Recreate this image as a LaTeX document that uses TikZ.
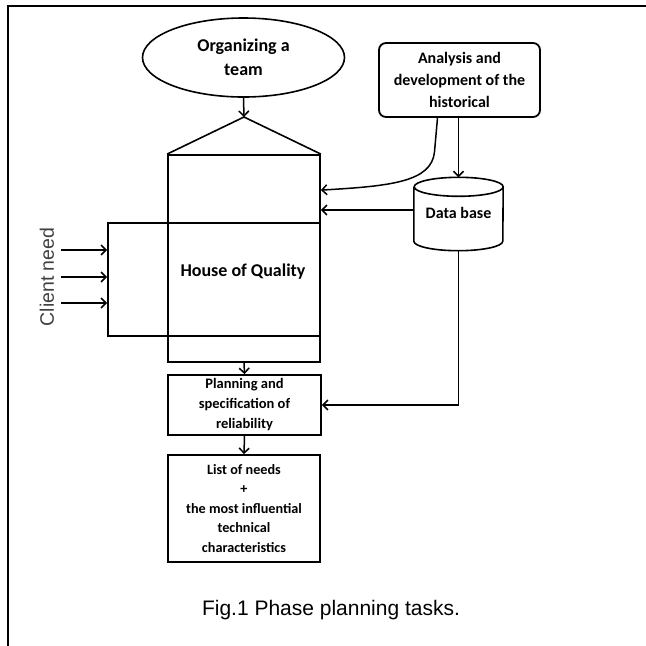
\documentclass[tikz,border=0pt]{standalone}
\usepackage{fontspec}
\setmainfont{Carlito}
\newfontfamily\arialfont{Liberation Sans}
\usetikzlibrary{arrows.meta,shapes.geometric,calc}

\begin{document}
\begin{tikzpicture}[x=1pt,y=-1pt,
  every node/.style={inner sep=0pt},
  box/.style={draw, rectangle, line width=1.8pt},
  arr/.style={line width=1.5pt, -{Straight Barb[length=5pt,width=10pt]}},
  wire/.style={line width=1.5pt}]
\useasboundingbox (0,0) rectangle (646,646);

% page frame (top and left rules)
\draw[line width=2pt] (8,648) -- (8,6) -- (648,6);

% team organisation
\node[draw, ellipse, line width=1.6pt, minimum width=202, minimum height=79,
      font=\bfseries\fontsize{18}{24}\selectfont, align=center]
      (team) at (243.5,57.5) {Organizing a\\team};

% historical analysis
\node[box, rounded corners=7pt, minimum width=161, minimum height=74,
      font=\bfseries\fontsize{16}{22}\selectfont, align=center]
      (hist) at (459.5,80) {Analysis and\\development of the\\historical};

% house of quality: tower with roof and the crossing matrix
\node[box, minimum width=152, minimum height=207] (tower) at (244,258.5) {};
\node[box, minimum width=212, minimum height=113] (matrix) at (214,279.5) {};
\coordinate (roof) at (244,117);
\draw[line width=1.6pt, line join=miter] (tower.north west) -- (roof) -- (tower.north east);
\node[font=\bfseries\fontsize{18}{22}\selectfont] (hoq) at (243,272) {House of Quality};

% data base cylinder
\node[minimum width=89, minimum height=54, font=\bfseries\fontsize{16}{20}\selectfont]
      (db) at (458.5,214) {\raisebox{3pt}{Data base}};
\draw[line width=1.6pt] (db.north west) -- (db.south west)
   arc[start angle=180, end angle=360, x radius=44.5pt, y radius=9.5pt]
   -- (db.north east)
   arc[start angle=0, end angle=360, x radius=44.5pt, y radius=9.5pt];
\coordinate (dbtop) at ([yshift=9.5pt]db.north);
\coordinate (dbfoot) at ([yshift=-9.5pt]db.south);

% planning and output boxes
\node[box, minimum width=153, minimum height=60,
      font=\bfseries\fontsize{14.5}{20}\selectfont, align=center]
      (plan) at (244.5,405) {Planning and\\specification of\\reliability};
\node[box, minimum width=152, minimum height=107,
      font=\bfseries\fontsize{14.2}{19.5}\selectfont, align=center]
      (list) at (244,508.5) {List of needs\\+\\the most influential\\technical\\characteristics};

% client needs entering the matrix
\node[rotate=90, font=\arialfont\fontsize{19.5}{22}\selectfont, text=black!75] (client) at (47,277) {Client need};
\coordinate (c1) at (61,250);
\coordinate (c2) at (61,277);
\coordinate (c3) at (61,303);
\draw[arr] (c1) -- (c1 -| matrix.west);
\draw[arr] (c2) -- (c2 -| matrix.west);
\draw[arr] (c3) -- (c3 -| matrix.west);

% flow connectors
\draw[arr] (team.south) -- (roof);
\draw[arr] (dbtop |- hist.south) -- (dbtop);
\draw[arr] ([xshift=-22pt]hist.south) -- ++(-3,34)
   .. controls +(-3,30) and +(70,-4) .. ($(tower.north east)+(0,36)$);
\draw[arr] ([yshift=4pt]db.west) -- ([yshift=4pt]db.west -| tower.east);
\draw[arr] (dbfoot) |- (plan.east);
\draw[arr] (tower.south) -- (plan.north);
\draw[arr] (plan.south) -- (list.north);

% caption
\node[font=\arialfont\fontsize{21}{25}\selectfont] (cap) at (331,610) {Fig.1 Phase planning tasks.};
\end{tikzpicture}
\end{document}
